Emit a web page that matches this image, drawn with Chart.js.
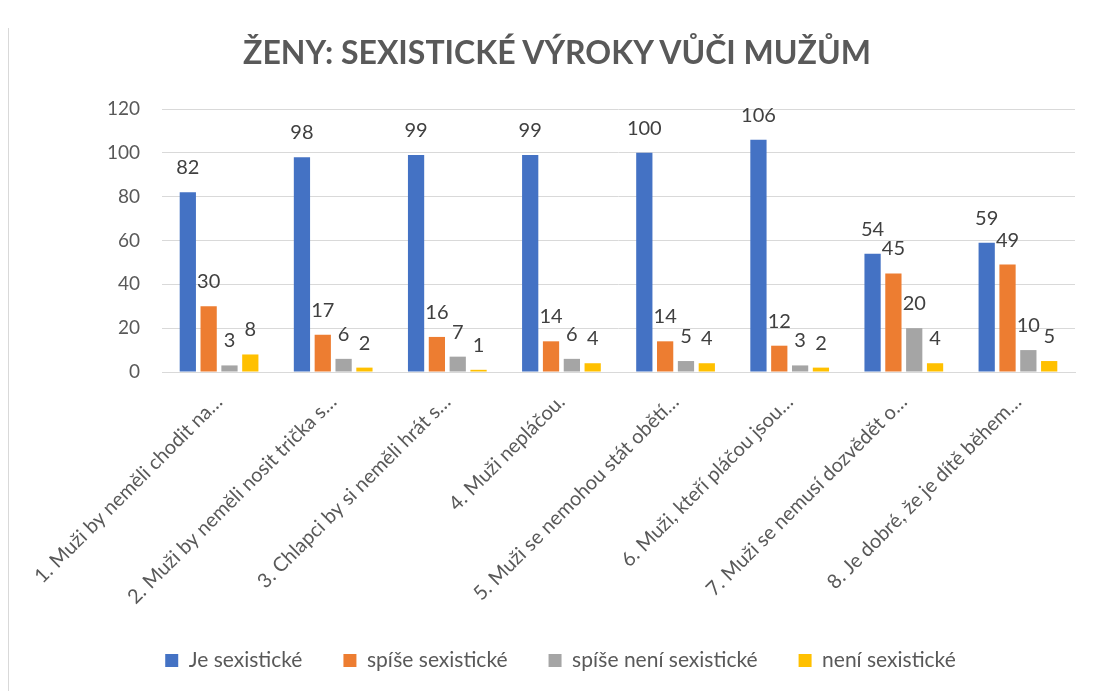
<!DOCTYPE html>
<html>
<head>
<meta charset="utf-8">
<script src="https://cdn.jsdelivr.net/npm/chart.js@4.4.0/dist/chart.umd.min.js"></script>
<style>
  body { margin: 0; background: #fff; }
  #wrap { position: relative; width: 1094px; height: 691px; }
  #frame { position: absolute; left: 8px; top: 28px; width: 0; height: 663px; border-left: 1px solid #d9d9d9; }
  #title {
    position: absolute; left: 20px; top: 31px; width: 1074px; text-align: center;
    font: bold 32px Lato, sans-serif; color: #595959; line-height: 42px;
  }
</style>
</head>
<body>
<div id="wrap">
  <div id="frame"></div>
  <canvas id="chart" width="1094" height="691"></canvas>
  <div id="title">ŽENY: SEXISTICKÉ VÝROKY VŮČI MUŽŮM</div>
</div>
<script>
const categories = [
    '1. Muži by neměli chodit na…',
    '2. Muži by neměli nosit trička s…',
    '3. Chlapci by si neměli hrát s…',
    '4. Muži nepláčou.',
    '5. Muži se nemohou stát obětí…',
    '6. Muži, kteří pláčou jsou…',
    '7. Muži se nemusí dozvědět o…',
    '8. Je dobré, že je dítě během…'
];
const jeSexisticke = [82, 98, 99, 99, 100, 106, 54, 59];
const spiseSexisticke = [30, 17, 16, 14, 14, 12, 45, 49];
const spiseNeniSexisticke = [3, 6, 7, 6, 5, 3, 20, 10];
const neniSexisticke = [8, 2, 1, 4, 4, 2, 4, 5];
const seriesNames = ['Je sexistické', 'spíše sexistické', 'spíše není sexistické', 'není sexistické'];
const colors = ['#4472c4', '#ed7d31', '#a5a5a5', '#ffc000'];

const font = "Lato, sans-serif";

// draws the numbers above the bars
const valueLabels = {
    id: 'valueLabels',
    afterDatasetsDraw(chart) {
        const ctx = chart.ctx;
        ctx.save();
        ctx.font = '20px ' + font;
        ctx.fillStyle = '#404040';
        ctx.textAlign = 'center';
        ctx.textBaseline = 'alphabetic';
        chart.data.datasets.forEach((ds, i) => {
            chart.getDatasetMeta(i).data.forEach((bar, j) => {
                ctx.fillText(ds.data[j], bar.x, bar.y - 18);
            });
        });
        ctx.restore();
    }
};

const allSeries = [jeSexisticke, spiseSexisticke, spiseNeniSexisticke, neniSexisticke];

new Chart(document.getElementById('chart'), {
    type: 'bar',
    data: {
        labels: categories,
        datasets: allSeries.map((d, i) => ({
            label: seriesNames[i],
            data: d,
            backgroundColor: colors[i],
            categoryPercentage: 0.73,
            barPercentage: 0.78
        }))
    },
    options: {
        responsive: false,
        animation: false,
        layout: { padding: { left: 46, right: 19, top: 109, bottom: 10 } },
        plugins: {
            legend: {
                position: 'bottom',
                labels: {
                    color: '#595959',
                    font: { family: font, size: 21 },
                    boxWidth: 13,
                    boxHeight: 13,
                    padding: 41
                }
            },
            tooltip: { enabled: false }
        },
        scales: {
            x: {
                grid: { display: false },
                border: { color: '#d9d9d9' },
                afterFit(scale) { scale.height = 237; },
                ticks: {
                    color: '#595959',
                    font: { family: font, size: 20 },
                    minRotation: 45,
                    maxRotation: 45,
                    autoSkip: false,
                    padding: 10
                }
            },
            y: {
                min: 0,
                max: 120,
                afterFit(scale) { scale.width = 116; },
                grid: { color: '#d9d9d9', drawTicks: false },
                border: { display: false },
                ticks: {
                    stepSize: 20,
                    color: '#595959',
                    font: { family: font, size: 19 },
                    padding: 22
                }
            }
        }
    },
    plugins: [valueLabels]
});
</script>
</body>
</html>
